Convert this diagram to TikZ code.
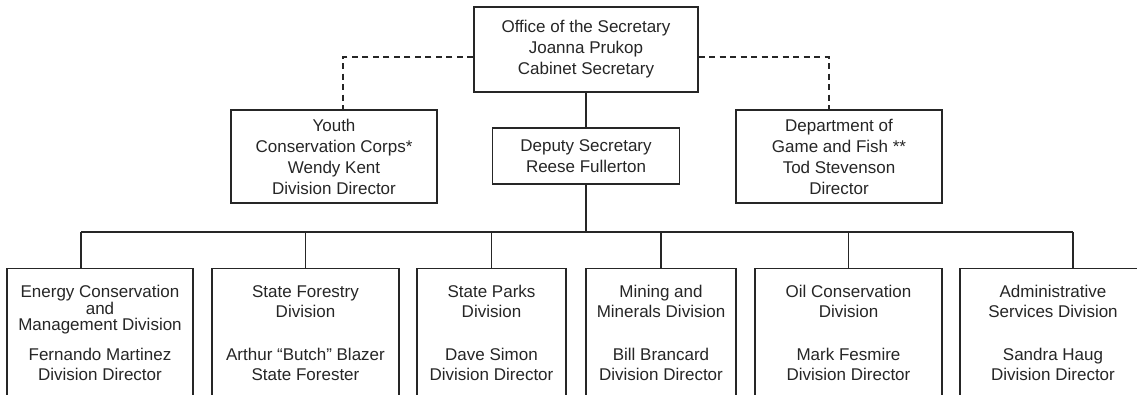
\documentclass[tikz,border=0pt]{standalone}
\usepackage{fontspec}
\setmainfont{Liberation Sans}
\usetikzlibrary{positioning}

\begin{document}
\begin{tikzpicture}[
    x=1pt, y=-1pt,
    every node/.style={font=\fontsize{17}{21}\selectfont, text=black!85},
    box/.style={draw=black!85, rectangle, line width=1.1pt, align=center, inner sep=0pt},
    divbox/.style={draw=black!85, rectangle, line width=1.1pt, anchor=north, minimum height=160pt, inner sep=0pt},
    title/.style={anchor=north, align=center, inner sep=0pt, font=\fontsize{17}{20}\selectfont},
    who/.style={anchor=north, align=center, inner sep=0pt, font=\fontsize{17}{20}\selectfont},
    link/.style={draw=black!85, line width=1.1pt},
    staff/.style={link, dash pattern=on 6pt off 4.5pt}
]

% --- Page frame ---
\fill[white] (0,0) rectangle (1137,394);
\useasboundingbox (0,0) rectangle (1137,394);
\clip (0,0) rectangle (1137,394);

% --- Secretary level ---
\node[box, minimum width=224pt, minimum height=85pt] (osec) at (586,49.5) {Office of the Secretary\\Joanna Prukop\\Cabinet Secretary};
\node[box, minimum width=206pt, minimum height=93pt] (ycc) at (334,156.5) {Youth\\Conservation Corps*\\Wendy Kent\\Division Director};
\node[box, minimum width=187pt, minimum height=56pt] (dep) at (586,156) {Deputy Secretary\\Reese Fullerton};
\node[box, minimum width=206pt, minimum height=93pt] (dgf) at (839,156.5) {Department of\\Game and Fish **\\Tod Stevenson\\Director};

% --- Divisions (boxes run past the lower edge) ---
\node[divbox, minimum width=186pt] (ecmd) at (100,268) {};
\node[divbox, minimum width=187pt] (sfd) at (305.5,268) {};
\node[divbox, minimum width=149pt] (spd) at (491.5,268) {};
\node[divbox, minimum width=150pt] (mmd) at (661,268) {};
\node[divbox, minimum width=187pt] (ocd) at (848.5,268) {};
\node[divbox, minimum width=186pt] (asd) at (1053,268) {};

\node[title, font=\fontsize{17}{16.5}\selectfont, below=17pt of ecmd.north] (ecmdname) {Energy Conservation\\and\\Management Division};
\node[title, below=17pt of sfd.north] (sfdname) {State Forestry\\Division};
\node[title, below=17pt of spd.north] (spdname) {State Parks\\Division};
\node[title, below=17pt of mmd.north] (mmdname) {Mining and\\Minerals Division};
\node[title, below=17pt of ocd.north] (ocdname) {Oil Conservation\\Division};
\node[title, below=17pt of asd.north] (asdname) {Administrative\\Services Division};

\node[who, below=80pt of ecmd.north] (ecmdhead) {Fernando Martinez\\Division Director};
\node[who, below=80pt of sfd.north] (sfdhead) {Arthur “Butch” Blazer\\State Forester};
\node[who, below=80pt of spd.north] (spdhead) {Dave Simon\\Division Director};
\node[who, below=80pt of mmd.north] (mmdhead) {Bill Brancard\\Division Director};
\node[who, below=80pt of ocd.north] (ocdhead) {Mark Fesmire\\Division Director};
\node[who, below=80pt of asd.north] (asdhead) {Sandra Haug\\Division Director};

% --- Line of authority ---
\coordinate (bus) at (586,232);
\coordinate (ecmdin) at (81,268);
\coordinate (asdin) at (1073,268);
\draw[link] (osec.south) -- (dep.north);
\draw[link] (dep.south) -- (bus);
\draw[link] (ecmdin |- bus) -- (asdin |- bus);
\draw[link] (ecmdin |- bus) -- (ecmdin);
\draw[link] (sfd.north |- bus) -- (sfd.north);
\draw[link] (spd.north |- bus) -- (spd.north);
\draw[link] (mmd.north |- bus) -- (mmd.north);
\draw[link] (ocd.north |- bus) -- (ocd.north);
\draw[link] (asdin |- bus) -- (asdin);

% --- Attached agencies (dashed) ---
\coordinate (staffy) at (0,57);
\coordinate (yccin) at (343,110);
\coordinate (dgfin) at (829,110);
\draw[staff] (osec.west |- staffy) -| (yccin);
\draw[staff] (osec.east |- staffy) -| (dgfin);
\end{tikzpicture}
\end{document}
